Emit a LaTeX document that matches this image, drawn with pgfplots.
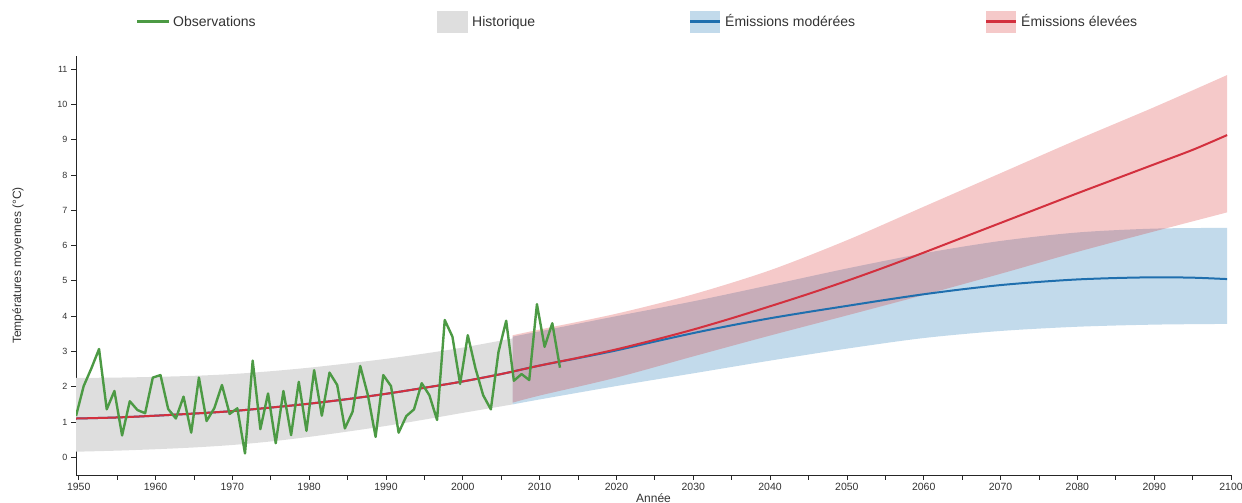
\documentclass[border=0pt]{standalone}
\usepackage{fontspec}
\setmainfont{Liberation Sans}
\usepackage{pgfplots}
\pgfplotsset{compat=1.18}
\usepgfplotslibrary{fillbetween}
\definecolor{obs}{HTML}{4C9A44}
\definecolor{histband}{HTML}{DEDEDE}
\definecolor{bluel}{HTML}{1F6FAE}
\definecolor{redl}{HTML}{D3303E}
\definecolor{blueb}{HTML}{1F77B4}
\definecolor{redb}{HTML}{D62728}
\definecolor{txt}{HTML}{333333}

\pgfplotstableread{
x y
1949.65 1.17
1950.65 2.02
1951.65 2.52
1952.65 3.07
1953.65 1.36
1954.65 1.88
1955.65 0.62
1956.65 1.59
1957.65 1.34
1958.65 1.25
1959.65 2.26
1960.65 2.33
1961.65 1.37
1962.65 1.10
1963.65 1.72
1964.65 0.70
1965.65 2.26
1966.65 1.03
1967.65 1.39
1968.65 2.05
1969.65 1.23
1970.65 1.39
1971.65 0.11
1972.65 2.74
1973.65 0.80
1974.65 1.81
1975.65 0.40
1976.65 1.88
1977.65 0.63
1978.65 2.14
1979.65 0.75
1980.65 2.47
1981.65 1.18
1982.65 2.40
1983.65 2.05
1984.65 0.82
1985.65 1.29
1986.65 2.59
1987.65 1.76
1988.65 0.58
1989.65 2.33
1990.65 2.02
1991.65 0.70
1992.65 1.17
1993.65 1.36
1994.65 2.10
1995.65 1.76
1996.65 1.06
1997.65 3.89
1998.65 3.42
1999.65 2.08
2000.65 3.46
2001.65 2.52
2002.65 1.76
2003.65 1.36
2004.65 2.99
2005.65 3.87
2006.65 2.17
2007.65 2.36
2008.65 2.19
2009.65 4.34
2010.65 3.13
2011.65 3.80
2012.65 2.54
}\obstab

\pgfplotstableread{
x lo hi
1949.65 0.16 2.25
1955 0.19 2.26
1960 0.23 2.28
1965 0.28 2.31
1970 0.35 2.36
1975 0.45 2.44
1980 0.58 2.54
1985 0.73 2.66
1990 0.89 2.79
1995 1.07 2.94
2000 1.26 3.11
2006.5 1.50 3.37
}\histtab

\pgfplotstableread{
x lo hi
2006.5 1.50 3.42
2010 1.64 3.57
2020 2.02 4.00
2030 2.38 4.42
2040 2.74 4.88
2050 3.08 5.35
2060 3.38 5.78
2070 3.58 6.13
2080 3.70 6.37
2090 3.76 6.48
2099.5 3.78 6.50
}\modtab

\pgfplotstableread{
x lo hi
2006.5 1.55 3.46
2010 1.75 3.62
2020 2.26 4.07
2030 2.86 4.62
2040 3.45 5.30
2050 4.02 6.15
2060 4.60 7.10
2070 5.20 8.05
2080 5.82 9.00
2090 6.40 9.92
2099.5 6.94 10.83
}\elevtab

\pgfplotstableread{
x y
1949.65 1.10
1955 1.13
1960 1.18
1965 1.24
1970 1.31
1975 1.41
1980 1.52
1985 1.65
1990 1.80
1995 1.97
2000 2.15
2005 2.36
2010 2.60
2015 2.81
2020 3.03
2025 3.28
2030 3.52
2035 3.74
2040 3.94
2045 4.12
2050 4.29
2055 4.46
2060 4.62
2065 4.76
2070 4.88
2075 4.97
2080 5.04
2085 5.08
2090 5.10
2095 5.09
2099.5 5.05
}\modmed

\pgfplotstableread{
x y
1949.65 1.10
1955 1.13
1960 1.18
1965 1.24
1970 1.31
1975 1.41
1980 1.52
1985 1.65
1990 1.80
1995 1.97
2000 2.15
2005 2.36
2010 2.60
2015 2.82
2020 3.06
2025 3.33
2030 3.62
2035 3.94
2040 4.28
2045 4.63
2050 5.00
2055 5.39
2060 5.80
2065 6.22
2070 6.64
2075 7.06
2080 7.48
2085 7.89
2090 8.30
2095 8.71
2099.5 9.13
}\elevmed

\begin{document}
\begin{tikzpicture}[x=1pt,y=1pt]
\begin{axis}[
  at={(76pt,28pt)}, anchor=south west,
  width=1155pt, height=419pt, scale only axis,
  xmin=1949.65, xmax=2100, ymin=-0.5, ymax=11.37,
  axis x line=bottom, axis y line=left,
  axis line style={black!85, line width=0.8pt, -},
  tick align=outside,
  major tick length=5pt, minor tick length=5pt,
  every tick/.style={black!85, line width=0.8pt},
  xtick={1950,1960,...,2100},
  minor xtick={1955,1965,...,2095},
  ytick={0,1,...,11},
  /pgf/number format/1000 sep={},
  /pgf/number format/assume math mode=true,
  x tick label style={font=\fontsize{10.5}{12}\selectfont, text=txt},
  y tick label style={font=\fontsize{9}{10}\selectfont, text=txt},
  xlabel={Année}, ylabel={Températures moyennes (°C)},
  every axis x label/.style={at={(axis description cs:0.5,0)}, yshift=-23.5pt, anchor=center, font=\fontsize{12}{14}\selectfont, text=txt},
  every axis y label/.style={at={(axis description cs:0,0.5)}, xshift=-58pt, rotate=90, anchor=center, font=\fontsize{12}{14}\selectfont, text=txt},
]
% historical band
\addplot[name path=hlo, draw=none, smooth] table[x=x, y=lo] {\histtab};
\addplot[name path=hhi, draw=none, smooth] table[x=x, y=hi] {\histtab};
\addplot[fill=histband, draw=none] fill between[of=hlo and hhi];
% moderate band
\addplot[name path=mlo, draw=none, smooth] table[x=x, y=lo] {\modtab};
\addplot[name path=mhi, draw=none, smooth] table[x=x, y=hi] {\modtab};
\addplot[fill=blueb, fill opacity=0.27, draw=none] fill between[of=mlo and mhi];
% high band
\addplot[name path=elo, draw=none, smooth] table[x=x, y=lo] {\elevtab};
\addplot[name path=ehi, draw=none, smooth] table[x=x, y=hi] {\elevtab};
\addplot[fill=redb, fill opacity=0.25, draw=none] fill between[of=elo and ehi];
% medians
\addplot[bluel, line width=2pt, smooth] table[x=x, y=y] {\modmed};
\addplot[redl, line width=2pt, smooth] table[x=x, y=y] {\elevmed};
% observations
\addplot[obs, line width=2.4pt, line join=round] table[x=x, y=y] {\obstab};
\end{axis}
% legend
\begin{scope}[font=\fontsize{14}{16}\selectfont, text=txt]
\draw[obs, line width=3pt] (137,481) -- (169,481);
\node[anchor=base west, inner sep=0] at (173,476) {Observations};
\fill[histband] (437,470) rectangle (468,492);
\node[anchor=base west, inner sep=0] at (472,476) {Historique};
\fill[blueb, fill opacity=0.27] (690,470) rectangle (720,492);
\draw[bluel, line width=3pt] (690,481) -- (720,481);
\node[anchor=base west, inner sep=0] at (725,476) {Émissions modérées};
\fill[redb, fill opacity=0.25] (986,470) rectangle (1016,492);
\draw[redl, line width=3pt] (986,481) -- (1016,481);
\node[anchor=base west, inner sep=0] at (1021,476) {Émissions élevées};
\end{scope}
\pgfresetboundingbox
\path[use as bounding box] (0,0) rectangle (1242,503);
\end{tikzpicture}
\end{document}
